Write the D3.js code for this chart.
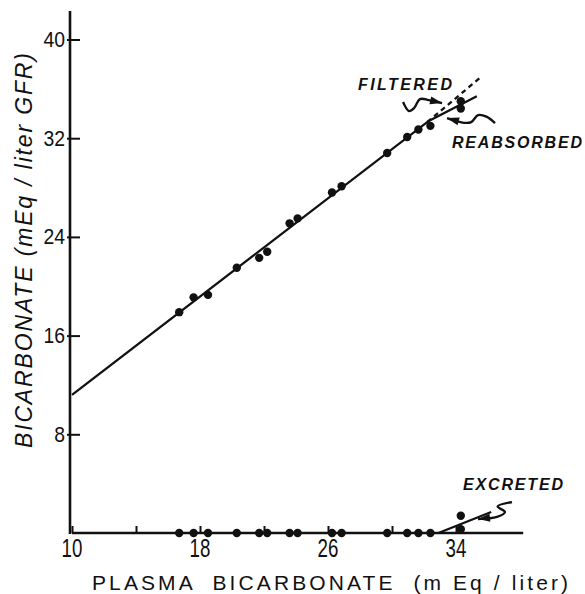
<!DOCTYPE html>
<html><head><meta charset="utf-8">
<script src="https://cdn.jsdelivr.net/npm/d3@7"></script>
<style>body{margin:0;background:#fff}svg{display:block}</style>
</head><body>
<svg id="c" width="585" height="594"></svg>
<script>
// ---- data ----
const plasma = [16.7, 17.6, 18.5, 20.3, 21.7, 22.2, 23.6, 24.1, 26.25, 26.85, 29.7, 30.95, 31.65, 32.4, 34.3, 34.3];
const reabsorbed = [17.9, 19.1, 19.3, 21.5, 22.3, 22.8, 25.1, 25.5, 27.6, 28.1, 30.8, 32.1, 32.7, 33.0, 35.0, 34.4];
const excreted = [0, 0, 0, 0, 0, 0, 0, 0, 0, 0, 0, 0, 0, 0, 1.4, 0.3];
const reabsLine = [[10, 11.2], [32.3, 33.4], [35.3, 35.4]];
const filteredLine = [[32.2, 33.3], [35.6, 37.0]];
const excretedLine = [[32.9, 0], [36.2, 1.7]];
const xTicks = [10, 14, 18, 22, 26, 30, 34];
const xTickLabels = [10, 18, 26, 34];
const yTicks = [8, 16, 24, 32, 40];
// annotation arrows (data units)
const arrowFiltered = [[30.69, 34.93], [31.06, 34.2], [31.38, 34.44], [31.75, 35.17], [32.3, 35.09], [33.13, 34.85]];
const arrowReabs = [[36.44, 33.23], [35.9, 33.75], [35.375, 33.87], [34.95, 33.3], [34.5, 33.25], [33.44, 33.63]];
const arrowExcr = [[37.5, 2.51], [36.6, 2.15], [37.06, 1.7], [36.56, 1.3], [35.375, 1.13]];

// ---- scales ----
const svg = d3.select("#c");
const x = d3.scaleLinear().domain([10, 34]).range([72, 456]);
const y = d3.scaleLinear().domain([0, 40]).range([533, 39.5]);
const ink = "#111";

// axes
const xAxis = d3.axisBottom(x).tickValues(xTicks).tickSize(-7).tickFormat("");
const gx = svg.append("g").attr("transform", `translate(0,${y(0)})`).call(xAxis);
gx.select(".domain").attr("d", `M${x(10)},0H${x(38.2)}`).attr("stroke", ink).attr("stroke-width", 2.4);
gx.selectAll(".tick line").attr("stroke", ink).attr("stroke-width", 2);

const yAxis = d3.axisLeft(y).tickValues(yTicks).tickSize(-10).tickFormat("");
const gy = svg.append("g").attr("transform", `translate(${x(10) - 2},0)`).call(yAxis);
gy.select(".domain").attr("d", `M0,${y(0) + 1}V${y(42.3)}`).attr("stroke", ink).attr("stroke-width", 2.6);
gy.selectAll(".tick line").attr("stroke", ink).attr("stroke-width", 2).attr("x1", -3);

// tick labels
svg.append("g").selectAll("text").data(xTickLabels).join("text")
  .attr("transform", d => `translate(${x(d)},557) scale(0.72,1)`)
  .attr("text-anchor", "middle")
  .attr("font-family", "Liberation Sans, Arial, sans-serif")
  .attr("font-size", 26).attr("fill", ink).text(d => d);
svg.append("g").selectAll("text").data(yTicks).join("text")
  .attr("transform", d => `translate(65,${y(d) + 7.5}) scale(0.88,1)`)
  .attr("text-anchor", "end")
  .attr("font-family", "Liberation Sans, Arial, sans-serif")
  .attr("font-size", 22).attr("fill", ink).text(d => d);

// axis titles
svg.append("text").attr("x", 92).attr("y", 590)
  .attr("font-family", "Liberation Sans, Arial, sans-serif").attr("font-size", 21)
  .attr("textLength", 476).attr("lengthAdjust", "spacing").attr("fill", ink)
  .attr("xml:space", "preserve")
  .text("PLASMA  BICARBONATE  (m Eq / liter)");
svg.append("text").attr("transform", "translate(32,448) rotate(-90)")
  .attr("font-family", "Liberation Sans, Arial, sans-serif").attr("font-size", 23)
  .attr("font-style", "italic")
  .attr("textLength", 395).attr("lengthAdjust", "spacing").attr("fill", ink)
  .text("BICARBONATE (mEq / liter GFR)");

// lines
const line = d3.line().x(d => x(d[0])).y(d => y(d[1]));
svg.append("path").attr("d", line(reabsLine)).attr("fill", "none").attr("stroke", ink).attr("stroke-width", 2.3);
svg.append("path").attr("d", line(filteredLine)).attr("fill", "none").attr("stroke", ink).attr("stroke-width", 2.3).attr("stroke-dasharray", "5,4");
svg.append("path").attr("d", line(excretedLine)).attr("fill", "none").attr("stroke", ink).attr("stroke-width", 2.3);

// points
svg.append("g").selectAll("circle").data(plasma).join("circle")
  .attr("cx", d => x(d)).attr("cy", (d, i) => y(reabsorbed[i])).attr("r", 4.2).attr("fill", ink);
svg.append("g").selectAll("circle").data(plasma).join("circle")
  .attr("cx", d => x(d)).attr("cy", (d, i) => y(excreted[i])).attr("r", 4.2).attr("fill", ink);

// annotation arrows
function arrow(pts) {
  const c = d3.line().x(d => x(d[0])).y(d => y(d[1])).curve(d3.curveCatmullRom);
  svg.append("path").attr("d", c(pts))
    .attr("fill", "none").attr("stroke", ink).attr("stroke-width", 2.3);
  const a = pts[pts.length - 2], b = pts[pts.length - 1];
  const ax = x(a[0]), ay = y(a[1]), bx = x(b[0]), by = y(b[1]);
  const ang = Math.atan2(by - ay, bx - ax);
  const L = 12, W = 4;
  const p1 = [bx - L * Math.cos(ang) + W * Math.sin(ang), by - L * Math.sin(ang) - W * Math.cos(ang)];
  const p2 = [bx - L * Math.cos(ang) - W * Math.sin(ang), by - L * Math.sin(ang) + W * Math.cos(ang)];
  svg.append("path").attr("d", `M${bx},${by}L${p1}L${p2}Z`).attr("fill", ink);
}
arrow(arrowFiltered);
arrow(arrowReabs);
arrow(arrowExcr);

// annotation labels
const ann = [
  {t: "FILTERED", px: 33.75, py: 35.9, anchor: "end", len: 94},
  {t: "REABSORBED", px: 33.75, py: 31.2, anchor: "start", len: 130},
  {t: "EXCRETED", px: 34.44, py: 3.45, anchor: "start", len: 100}
];
svg.append("g").selectAll("text").data(ann).join("text")
  .attr("x", d => d.anchor === "end" ? x(d.px) - d.len : x(d.px)).attr("y", d => y(d.py))
  .attr("font-family", "Liberation Sans, Arial, sans-serif").attr("font-size", 16)
  .attr("font-weight", "bold").attr("font-style", "italic")
  .attr("textLength", d => d.len).attr("lengthAdjust", "spacing").attr("fill", ink)
  .text(d => d.t);
</script>
</body></html>
